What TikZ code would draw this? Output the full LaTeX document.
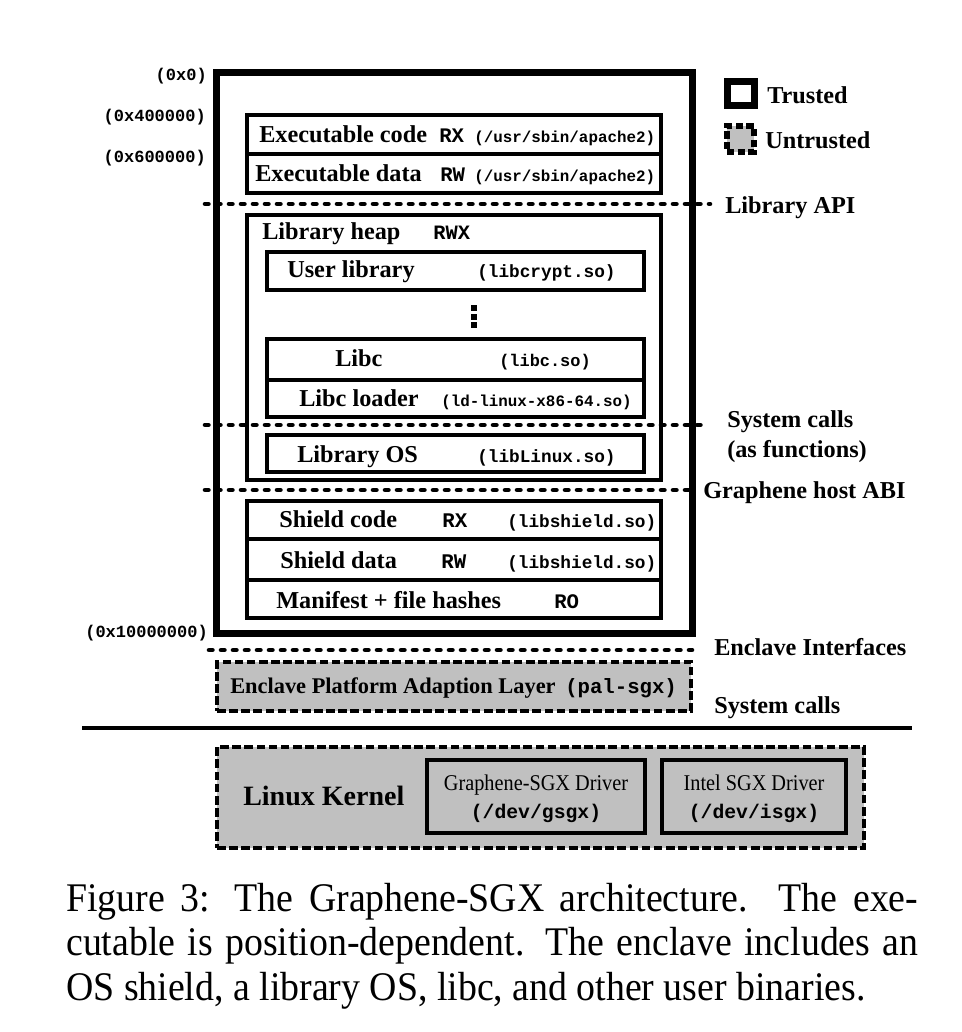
\documentclass[tikz,border=0pt]{standalone}
\usepackage{fontspec}
\setmainfont{Liberation Serif}
\newfontfamily\cmono{Liberation Mono}
\newfontfamily\narrowserif[FakeStretch=0.9]{Liberation Serif}
\newfontfamily\capserif[FakeStretch=0.93]{Liberation Serif}
\usetikzlibrary{fit}
\definecolor{ugray}{RGB}{192,192,192}
\begin{document}
\begin{tikzpicture}[x=0.75pt,y=-0.75pt,
  trusted/.style={draw, line width=5.25pt, inner sep=0pt},
  cell/.style={draw, line width=3pt, inner sep=0pt},
  drv/.style={draw, line width=3pt, fill=ugray, inner sep=0pt},
  untrusted/.style={draw, line width=3pt, dash pattern=on 6.5pt off 2.6pt, fill=ugray, inner sep=0pt},
  sepline/.style={line width=3.4pt, line cap=round, dash pattern=on 2.6pt off 6.4pt},
  lbl/.style={anchor=base west, inner sep=0pt, font=\bfseries\fontsize{18.2}{20}\selectfont},
  addr/.style={anchor=base east, inner sep=0pt, font=\cmono\bfseries\fontsize{12.75}{13}\selectfont},
  code/.style={anchor=base west, inner sep=0pt, font=\cmono\bfseries\fontsize{#1}{#1}\selectfont},
  captext/.style={anchor=base west, inner sep=0pt, font=\capserif\fontsize{30.5}{34}\selectfont},
]
\useasboundingbox (0,0) rectangle (962,1032);
\fill[white] (0,0) rectangle (962,1032);

% enclave (trusted) box
\node[trusted, fit={(216,72.5)(692,633.5)}] (enclave) {};

% executable
\node[cell, fit={(247,115)(661,154)}] (execcode) {};
\node[cell, fit={(247,154)(661,193)}] (execdata) {};
\node[lbl] (tcode) at (259,142) {Executable code};
\node[code=15.5] (rxa) at (439,142) {RX};
\node[code=11.9] (pcode) at (474,142) {(/usr/sbin/apache2)};
\node[lbl] (tdata) at (255,181) {Executable data};
\node[code=15.5] (rwa) at (440,181) {RW};
\node[code=11.9] (pdata) at (474,181) {(/usr/sbin/apache2)};

% library heap
\node[cell, fit={(247,215)(661,480)}] (heap) {};
\node[lbl] (theap) at (262,239) {Library heap};
\node[code=15.3] (rwx) at (433,239) {RWX};
\node[cell, fit={(267,252)(644,290)}] (userlib) {};
\node[lbl] (tuser) at (287,277) {User library};
\node[code=13.3] (puser) at (477,277) {(libcrypt.so)};
\fill (471,305) rectangle (477,311);
\fill (471,313.5) rectangle (477,319.5);
\fill (471,322) rectangle (477,328);
\node[cell, fit={(267,339)(644,380)}] (libc) {};
\node[cell, fit={(267,380)(644,417)}] (loader) {};
\node[lbl] (tlibc) at (335,366) {Libc};
\node[code=12.7] (plibc) at (499,366) {(libc.so)};
\node[lbl] (tload) at (299,406) {Libc loader};
\node[code=11.9] (pload) at (441,406) {(ld-linux-x86-64.so)};
\node[cell, fit={(267,435)(644,472)}] (libos) {};
\node[lbl] (tlibos) at (297,462) {Library OS};
\node[code=13.3] (plibos) at (477,462) {(libLinux.so)};

% shield
\node[cell, fit={(247,501)(661,539)}] (shcode) {};
\node[cell, fit={(247,539)(661,580)}] (shdata) {};
\node[cell, fit={(247,580)(661,618)}] (manifest) {};
\node[lbl] (tshc) at (279,527) {Shield code};
\node[code=15.6] (rxs) at (442,527) {RX};
\node[code=13.3] (pshc) at (507,527) {(libshield.so)};
\node[lbl] (tshd) at (280,568) {Shield data};
\node[code=15.6] (rws) at (441,568) {RW};
\node[code=13.3] (pshd) at (507,568) {(libshield.so)};
\node[lbl] (tman) at (276,608) {Manifest + file hashes};
\node[code=15.5] (ro) at (554,608) {RO};

% addresses
\node[addr] (a0) at (207,80) {(0x0)};
\node[addr] (a4) at (206,121) {(0x400000)};
\node[addr] (a6) at (206,162) {(0x600000)};
\node[addr] (a10) at (208,637) {(0x10000000)};

% interface separators
\coordinate (s1a) at (205,204); \coordinate (s1b) at (710,204);
\coordinate (s2a) at (205,425); \coordinate (s2b) at (708,425);
\coordinate (s3a) at (205,490); \coordinate (s3b) at (694,490);
\coordinate (s4a) at (209,650); \coordinate (s4b) at (692,650);
\draw[sepline] (s1a) -- (s1b);
\draw[sepline] (s2a) -- (s2b);
\draw[sepline] (s3a) -- (s3b);
\draw[sepline] (s4a) -- (s4b);

% right labels
\node[lbl] (lapi) at (725,213) {Library API};
\node[lbl] (lsys1) at (727,427) {System calls};
\node[lbl] (lsys2) at (727,457) {(as functions)};
\node[lbl] (labi) at (703,498) {Graphene host ABI};
\node[lbl] (lenc) at (714,655) {Enclave Interfaces};
\node[lbl] (lsys3) at (714,713) {System calls};

% legend
\node[trusted, fit={(727.5,81.5)(754.5,105.5)}] (legT) {};
\node[lbl] (legTt) at (767,103) {Trusted};
\node[untrusted, line width=4.5pt, dash pattern=on 5.5pt off 2.5pt, fit={(727,126)(754,152)}] (legU) {};
\node[lbl] (legUt) at (765,148) {Untrusted};

% PAL
\node[untrusted, fit={(217,662)(691,711)}] (pal) {};
\node[anchor=base west, inner sep=0pt, font=\bfseries\fontsize{16.8}{18}\selectfont] (tpal) at (230,693) {Enclave Platform Adaption Layer};
\node[code=15.5] (ppal) at (565,693) {(pal-sgx)};

% kernel line
\coordinate (ka) at (82,728); \coordinate (kb) at (912,728);
\draw[line width=2.3pt] (ka) -- (kb);

% kernel
\node[untrusted, fit={(217,747)(864,848)}] (kernel) {};
\node[anchor=base west, inner sep=0pt, font=\bfseries\fontsize{21}{22}\selectfont] (tkern) at (243,805) {Linux Kernel};
\node[drv, fit={(427,760)(645,833)}] (gdrv) {};
\node[drv, fit={(662,760)(846,833)}] (idrv) {};
\node[anchor=base, inner sep=0pt, font=\narrowserif\fontsize{16.9}{18}\selectfont] (tg1) at (536,790) {Graphene-SGX Driver};
\node[code=14.8, anchor=base] (tg2) at (536,818) {(/dev/gsgx)};
\node[anchor=base, inner sep=0pt, font=\narrowserif\fontsize{16.9}{18}\selectfont] (ti1) at (754,790) {Intel SGX Driver};
\node[code=14.8, anchor=base] (ti2) at (754,818) {(/dev/isgx)};

% caption
\node[captext] (c1) at (66,911) {\makebox[639pt][s]{Figure 3:  The Graphene-SGX architecture.  The exe-}};
\node[captext] (c2) at (66,955) {\makebox[639pt][s]{cutable is position-dependent.  The enclave includes an}};
\node[captext] (c3) at (66,1000) {OS shield, a library OS, libc, and other user binaries.};
\end{tikzpicture}
\end{document}
